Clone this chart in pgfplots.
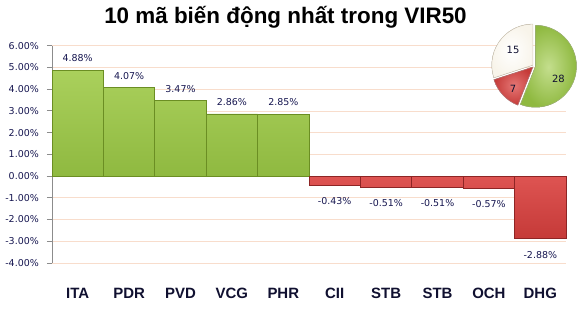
\documentclass[border=0pt]{standalone}
\usepackage{pgfplots}
\pgfplotsset{compat=1.18}
\usepackage{fontspec}
\setmainfont{DejaVu Sans}
\newfontfamily\lib{Liberation Sans}
\definecolor{gtop}{HTML}{AAD05C}
\definecolor{gbot}{HTML}{8FB940}
\definecolor{gedge}{HTML}{6B8E23}
\definecolor{rtop}{HTML}{DE5452}
\definecolor{rbot}{HTML}{C53A38}
\definecolor{redge}{HTML}{8E2525}
\definecolor{gridc}{HTML}{F8DDCC}
\definecolor{axisgray}{HTML}{8C8C8C}
\definecolor{labc}{HTML}{161650}
\definecolor{catc}{HTML}{101030}
\definecolor{cream}{HTML}{F8F4EA}
\definecolor{creamedge}{HTML}{D6CDBB}
\begin{document}
\begin{tikzpicture}
\path[use as bounding box] (0bp,0bp) rectangle (579bp,311bp);
\node[anchor=base, font=\lib\bfseries\fontsize{22.5}{26}\selectfont] at (285.5bp,287bp) {10 mã biến động nhất trong VIR50};
\begin{axis}[
  at={(52bp,48bp)}, anchor=south west, scale only axis,
  width=514bp, height=217.3bp,
  xmin=-0.5, xmax=9.5, ymin=-4, ymax=6,
  ytick={-4,-3,-2,-1,0,1,2,3,4,5,6},
  xtick={0,1,2,3,4,5,6,7,8,9},
  xticklabels={ITA,PDR,PVD,VCG,PHR,CII,STB,STB,OCH,DHG},
  axis lines*=left,
  axis line style={-, draw=axisgray, line width=0.8bp},
  x axis line style={draw=none},
  xtick style={draw=none},
  ytick style={draw=axisgray, line width=0.8bp},
  tick align=outside, major tick length=5bp,
  ymajorgrids, grid style={gridc, line width=0.7bp},
  extra y ticks={0}, extra y tick labels={},
  extra y tick style={grid style={axisgray, line width=0.9bp}, tick style={draw=none}},
  yticklabel={\pgfmathprintnumber[fixed,fixed zerofill,precision=2,assume math mode=true]{\tick}\%},
  yticklabel style={font=\fontsize{9.5}{11}\selectfont, text=labc, inner sep=0pt, anchor=east, xshift=-8bp},
  xticklabel style={font=\lib\bfseries\fontsize{15}{18}\selectfont, text=catc, anchor=base, inner sep=0pt, yshift=-30bp},
  ybar, bar width=1,
  clip=false,
  nodes near coords={\pgfmathprintnumber[fixed,fixed zerofill,precision=2,assume math mode=true]{\pgfplotspointmeta}\%},
]
\addplot[bar shift=0pt, top color=gtop, bottom color=gbot, draw=gedge, line width=0.8bp,
  every node near coord/.style={anchor=center, yshift=12bp, font=\fontsize{9.5}{11}\selectfont, text=labc, inner sep=0pt}]
  coordinates {(0,4.88) (1,4.07) (2,3.47) (3,2.86) (4,2.85)};
\addplot[bar shift=0pt, top color=rtop, bottom color=rbot, draw=redge, line width=0.8bp,
  every node near coord/.style={anchor=center, yshift=-16bp, font=\fontsize{9.5}{11}\selectfont, text=labc, inner sep=0pt}]
  coordinates {(5,-0.43) (6,-0.51) (7,-0.51) (8,-0.57) (9,-2.88)};
\end{axis}
% pie of counts
\def\vG{28}\def\vR{7}\def\vC{15}
\pgfmathsetmacro\tot{\vG+\vR+\vC}
\pgfmathsetmacro\aG{90-\vG/\tot*360}
\pgfmathsetmacro\aR{\aG-\vR/\tot*360}
\pgfmathsetmacro\aC{\aR-\vC/\tot*360}
\pgfmathsetmacro\mG{(90+\aG)/2}
\pgfmathsetmacro\mR{(\aG+\aR)/2}
\pgfmathsetmacro\mC{(\aR+\aC)/2}
\begin{axis}[at={(534bp,245bp)}, anchor=center, hide axis, scale only axis,
  width=84bp, height=84bp, xmin=-1, xmax=1, ymin=-1, ymax=1, clip=false]
\fill[inner color=gtop!70!white, outer color=gbot, draw=gedge!60, line width=0.5bp]
  (axis cs:0,0) ++(\mG:1.5bp) -- ++(90:41bp) arc[start angle=90, end angle=\aG, radius=41bp] -- cycle;
\fill[inner color=rtop!80!white, outer color=rbot, draw=redge!60, line width=0.5bp]
  (axis cs:0,0) ++(\mR:1.5bp) -- ++(\aG:41bp) arc[start angle=\aG, end angle=\aR, radius=41bp] -- cycle;
\fill[inner color=white, outer color=cream, draw=creamedge, line width=0.5bp]
  (axis cs:0,0) ++(\mC:1.5bp) -- ++(\aR:41bp) arc[start angle=\aR, end angle=\aC, radius=41bp] -- cycle;
\node[font=\fontsize{10}{12}\selectfont, text=catc] at (axis cs:0.58,-0.31) {\vG};
\node[font=\fontsize{10}{12}\selectfont, text=catc] at (axis cs:-0.5,-0.55) {\vR};
\node[font=\fontsize{10}{12}\selectfont, text=catc] at (axis cs:-0.5,0.38) {\vC};
\end{axis}
\end{tikzpicture}
\end{document}
